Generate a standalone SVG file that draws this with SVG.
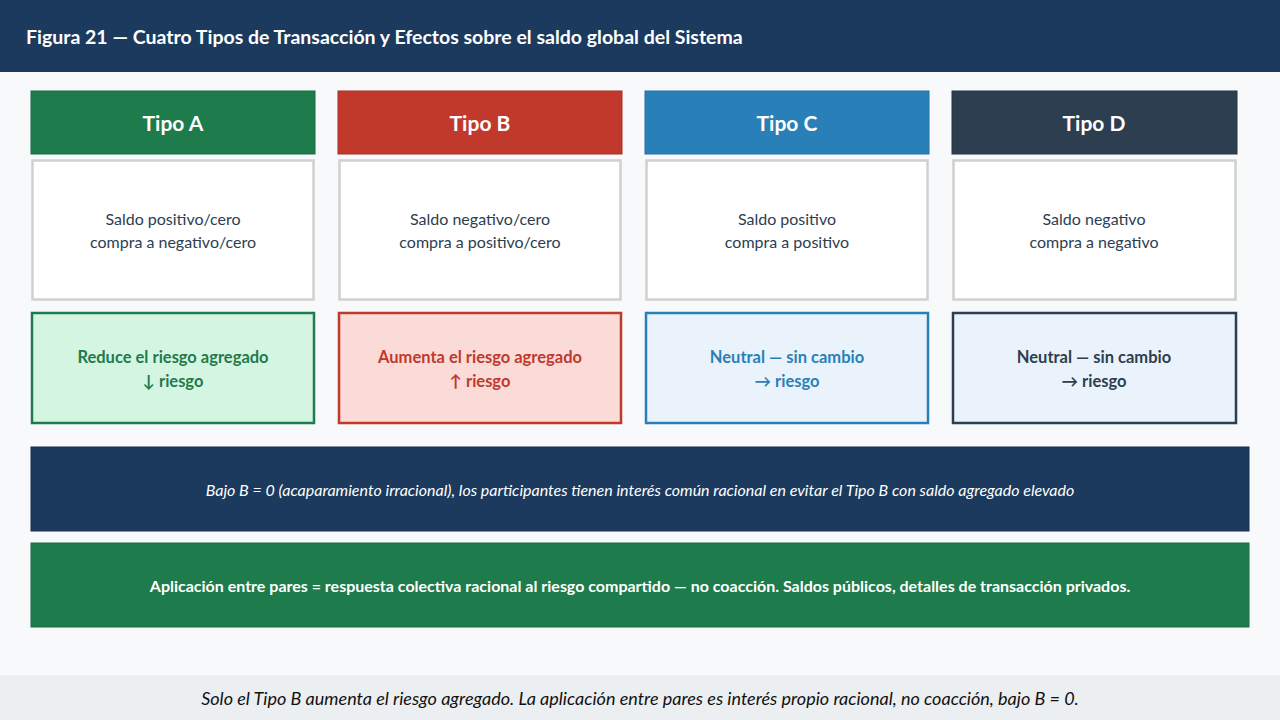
<svg xmlns="http://www.w3.org/2000/svg" width="1280" height="720" viewBox="0 0 1280 720">
<style>
text{font-family:Lato,"Open Sans","Liberation Sans",sans-serif}
.hd{font-size:21px;font-weight:bold;fill:#fff;text-anchor:middle}
.bd{font-size:16px;fill:#2c3e50;text-anchor:middle}
.ef{font-size:16.5px;font-weight:bold;text-anchor:middle}
.mid{fill:#fff;stroke:#d0d0d0;stroke-width:2.5}
</style>
<rect width="1280" height="720" fill="#f7f9fb"/>
<rect width="1280" height="72" fill="#1b3a5e"/>
<text x="26" y="44" font-size="19.5" font-weight="bold" fill="#fff">Figura 21 — Cuatro Tipos de Transacción y Efectos sobre el saldo global del Sistema</text>
<g id="tipoA">
<rect x="31" y="91" width="284" height="63" fill="#1e7b4b" stroke="#1a6e42"/>
<text class="hd" x="173" y="131">Tipo A</text>
<rect class="mid" x="32.5" y="160.5" width="281" height="139"/>
<text class="bd" x="173" y="225">Saldo positivo/cero</text>
<text class="bd" x="173" y="248">compra a negativo/cero</text>
<rect x="32" y="313" width="282" height="110" fill="#d5f5e3" stroke="#1e7b4b" stroke-width="2.5"/>
<text class="ef" x="173" y="363" fill="#1e7b4b">Reduce el riesgo agregado</text>
<text class="ef" x="173" y="387" fill="#1e7b4b">↓ riesgo</text>
</g>
<g id="tipoB">
<rect x="338" y="91" width="284" height="63" fill="#c0392b" stroke="#a93226"/>
<text class="hd" x="480" y="131">Tipo B</text>
<rect class="mid" x="339.5" y="160.5" width="281" height="139"/>
<text class="bd" x="480" y="225">Saldo negativo/cero</text>
<text class="bd" x="480" y="248">compra a positivo/cero</text>
<rect x="339" y="313" width="282" height="110" fill="#fadbd8" stroke="#c0392b" stroke-width="2.5"/>
<text class="ef" x="480" y="363" fill="#c0392b">Aumenta el riesgo agregado</text>
<text class="ef" x="480" y="387" fill="#c0392b">↑ riesgo</text>
</g>
<g id="tipoC">
<rect x="645" y="91" width="284" height="63" fill="#2980b9" stroke="#2471a3"/>
<text class="hd" x="787" y="131">Tipo C</text>
<rect class="mid" x="646.5" y="160.5" width="281" height="139"/>
<text class="bd" x="787" y="225">Saldo positivo</text>
<text class="bd" x="787" y="248">compra a positivo</text>
<rect x="646" y="313" width="282" height="110" fill="#eaf3fb" stroke="#2980b9" stroke-width="2.5"/>
<text class="ef" x="787" y="363" fill="#2980b9">Neutral — sin cambio</text>
<text class="ef" x="787" y="387" fill="#2980b9">→ riesgo</text>
</g>
<g id="tipoD">
<rect x="952" y="91" width="285" height="63" fill="#2c3e50" stroke="#253544"/>
<text class="hd" x="1094" y="131">Tipo D</text>
<rect class="mid" x="953.5" y="160.5" width="282" height="139"/>
<text class="bd" x="1094" y="225">Saldo negativo</text>
<text class="bd" x="1094" y="248">compra a negativo</text>
<rect x="953" y="313" width="283" height="110" fill="#eaf3fb" stroke="#2c3e50" stroke-width="2.5"/>
<text class="ef" x="1094" y="363" fill="#2c3e50">Neutral — sin cambio</text>
<text class="ef" x="1094" y="387" fill="#2c3e50">→ riesgo</text>
</g>
<g id="banner1">
<rect x="31" y="447" width="1218" height="84" fill="#1b3a5e" stroke="#163150"/>
<text x="640" y="496" font-size="16" font-style="italic" fill="#fff" text-anchor="middle">Bajo B = 0 (acaparamiento irracional), los participantes tienen interés común racional en evitar el Tipo B con saldo agregado elevado</text>
</g>
<g id="banner2">
<rect x="31" y="543" width="1218" height="84" fill="#1e7b4b" stroke="#1a6e42"/>
<text x="640" y="592" font-size="16" font-weight="bold" fill="#fff" text-anchor="middle">Aplicación entre pares = respuesta colectiva racional al riesgo compartido — no coacción. Saldos públicos, detalles de transacción privados.</text>
</g>
<g id="connectors"></g>
<rect y="675" width="1280" height="45" fill="#eceff1"/>
<text x="640" y="705" font-size="18" font-style="italic" fill="#111" text-anchor="middle">Solo el Tipo B aumenta el riesgo agregado. La aplicación entre pares es interés propio racional, no coacción, bajo B = 0.</text>
</svg>
